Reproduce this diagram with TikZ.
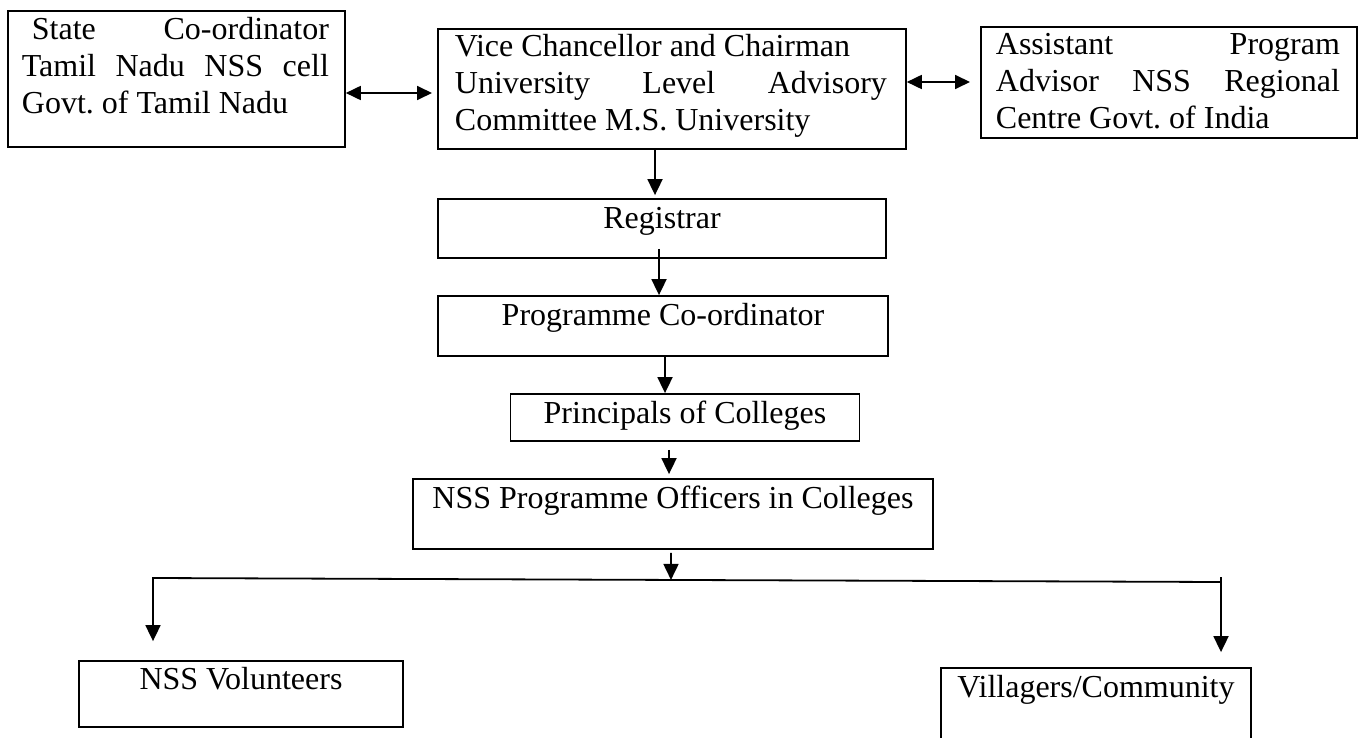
\documentclass[tikz,border=0pt]{standalone}
\usepackage{fontspec}
\setmainfont{Liberation Serif}
\usetikzlibrary{arrows.meta,calc}
\newcommand\bigfs{\fontsize{32pt}{37pt}\selectfont\frenchspacing}
\tikzset{
  box/.style={draw, line width=1.8pt, inner sep=0pt},
  ln/.style={line width=1.8pt, line join=miter},
  arr/.style={ln, -{Triangle[length=16pt,width=15pt]}},
  dbl/.style={ln, {Triangle[length=15pt,width=14pt]}-{Triangle[length=15pt,width=14pt]}},
}
\begin{document}
\begin{tikzpicture}[x=1pt,y=-1pt,font=\bigfs]
\clip (0,0) rectangle (1364,738);
\fill[white] (0,0) rectangle (1364,738);

% top row
\node[box, anchor=base west, text height=29pt, text depth=107pt] (st) at (7,40)
  {\parbox[t]{337pt}{\bigfs\hspace*{14pt}\makebox[307pt][s]{\hspace*{10pt}State Co-ordinator}\\
   \hspace*{14pt}\makebox[307pt][s]{Tamil Nadu NSS cell}\\
   \hspace*{14pt}Govt. of Tamil Nadu}};
\node[box, anchor=base west, text height=28pt, text depth=92pt] (vc) at (437,57)
  {\parbox[t]{468pt}{\bigfs\hspace*{17pt}Vice Chancellor and Chairman\\
   \hspace*{17pt}\makebox[432pt][s]{University Level Advisory}\\
   \hspace*{17pt}Committee M.S. University}};
\node[box, anchor=base west, text height=28pt, text depth=83pt] (ap) at (980,55)
  {\parbox[t]{376pt}{\bigfs\hspace*{15pt}\makebox[344pt][s]{Assistant Program}\\
   \hspace*{15pt}\makebox[344pt][s]{Advisor NSS Regional}\\
   \hspace*{15pt}Centre Govt. of India}};

% chain
\node[box, anchor=base, minimum width=448pt, text height=29pt, text depth=30pt] (reg) at (662,228) {Registrar};
\node[box, anchor=base, minimum width=450pt, text height=29pt, text depth=31pt] (pc) at (663,325) {Programme Co-ordinator};
\node[box, anchor=base, minimum width=349pt, text height=29pt, text depth=18pt] (pr) at (685,423) {Principals of Colleges};
\node[box, anchor=base, minimum width=520pt, text height=29pt, text depth=41pt] (po) at (673,508) {NSS Programme Officers in Colleges};
\node[box, anchor=base, minimum width=324pt, text height=28pt, text depth=38pt] (vol) at (241,689) {NSS Volunteers};
\node[box, anchor=base, minimum width=310pt, text height=29pt, text depth=60pt] (vil) at (1096,697) {Villagers/Community};

% connector coordinates
\coordinate (a1) at (0,93);
\coordinate (a2) at (0,82);
\coordinate (v1) at (655,0);
\coordinate (v2) at (659,0);
\coordinate (v3) at (665,0);
\coordinate (v4) at (669,0);
\coordinate (v5) at (671,0);
\coordinate (hL) at (153,578);
\coordinate (hR) at (1221,582);

\draw[dbl, shorten >=5pt] (st.east |- a1) -- (vc.west |- a1);
\draw[dbl, shorten >=10pt] (vc.east |- a2) -- (ap.west |- a2);
\draw[arr, shorten >=3pt] (vc.south -| v1) -- (reg.north -| v1);
\draw[arr] ($(reg.south -| v2)+(0,-10)$) -- (pc.north -| v2);
\draw[arr] (pc.south -| v3) -- (pr.north -| v3);
\draw[arr, shorten >=4pt] ($(pr.south -| v4)+(0,8)$) -- (po.north -| v4);
\draw[arr] ($(po.south -| v5)+(0,3)$) -- ($(hL)!0.485!(hR)$);
\draw[arr] (hR) -- (hL) -- ($(vol.north -| hL)+(0,-19)$);
\draw[arr] ($(hR)+(0,-5)$) -- ($(vil.north -| hR)+(0,-15)$);
\end{tikzpicture}
\end{document}
